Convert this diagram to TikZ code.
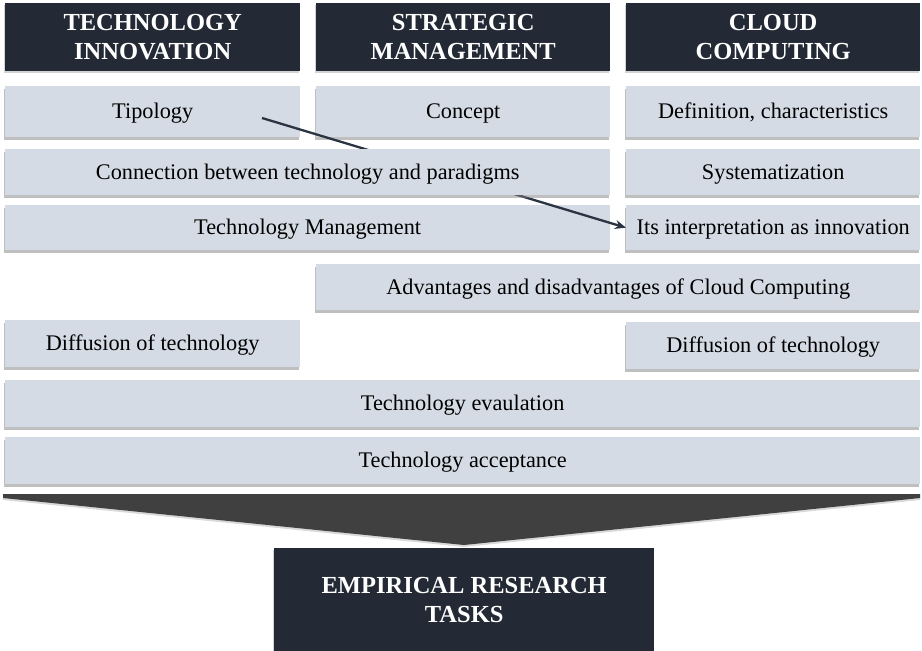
\documentclass[tikz,border=0pt]{standalone}
\usepackage{fontspec}
\setmainfont{Liberation Serif}
\usetikzlibrary{shadows,arrows.meta}
\definecolor{headdark}{HTML}{232A35}
\definecolor{boxlight}{HTML}{D5DBE5}
\definecolor{chevron}{HTML}{404040}
\definecolor{arrowcol}{HTML}{2B3442}
\tikzset{
  headbox/.style={anchor=north west, inner sep=0pt, fill=headdark, text=white,
    font=\fontsize{24.5}{29}\selectfont\bfseries, align=center,
    drop shadow={shadow xshift=-1pt, shadow yshift=-2pt, opacity=0.35}},
  topicbox/.style={anchor=north west, inner sep=0pt, fill=boxlight, text=black,
    font=\fontsize{22.3}{27}\selectfont, align=center,
    text height=14.5pt, text depth=0pt,
    drop shadow={shadow xshift=-1.5pt, shadow yshift=-2.5pt, opacity=0.5}},
  link/.style={draw=arrowcol, line width=2.3pt, -{Stealth[length=11pt,width=9pt]}}
}
\newcommand{\boxat}[6]{% style, name, x, y, w, h -> text follows
  \node[#1, minimum width=#5pt, minimum height=#6pt] (#2) at (#3,#4)}
\begin{document}
\begin{tikzpicture}[x=1pt,y=-1pt]
\useasboundingbox (0,0) rectangle (922,651);

% column headers
\boxat{headbox}{hTI}{5}{3}{295}{68} {TECHNOLOGY\\INNOVATION};
\boxat{headbox}{hSM}{316}{3}{294}{68} {STRATEGIC\\MANAGEMENT};
\boxat{headbox}{hCC}{626}{3}{294}{68} {CLOUD\\COMPUTING};

% first row
\boxat{topicbox}{tipology}{5}{86}{295}{51} {Tipology};
\boxat{topicbox}{concept}{316}{86}{294}{51} {Concept};
\boxat{topicbox}{definition}{626}{86}{294}{51} {Definition, characteristics};

% second and third rows
\boxat{topicbox}{system}{626}{149}{294}{46} {Systematization};
\boxat{topicbox}{techmgmt}{5}{205}{605}{45} {Technology Management};
\boxat{topicbox}{interp}{626}{205}{294}{45} {Its interpretation as innovation};

% connector runs beneath the "connection" bar
\coordinate (linkstart) at (262,118);
\draw[link] (linkstart) -- (interp.west);

\boxat{topicbox}{connection}{5}{149}{605}{46} {Connection between technology and paradigms};

% lower rows
\boxat{topicbox}{advantages}{316}{264}{604}{46} {Advantages and disadvantages of Cloud Computing};
\boxat{topicbox}{diffleft}{5}{320}{295}{47} {Diffusion of technology};
\boxat{topicbox}{diffright}{626}{322}{294}{47} {Diffusion of technology};
\boxat{topicbox}{evaluation}{5}{380}{915}{47} {Technology evaulation};
\boxat{topicbox}{acceptance}{5}{437}{915}{47} {Technology acceptance};

% funnel chevron
\fill[chevron, drop shadow={shadow xshift=0pt, shadow yshift=-2pt, opacity=0.3}]
  (3,494) -- (920,494) -- (920,498) -- (464,545) -- (3,498) -- cycle;

% result box
\boxat{headbox}{tasks}{274}{548}{380}{103} {EMPIRICAL RESEARCH\\TASKS};
\end{tikzpicture}
\end{document}
